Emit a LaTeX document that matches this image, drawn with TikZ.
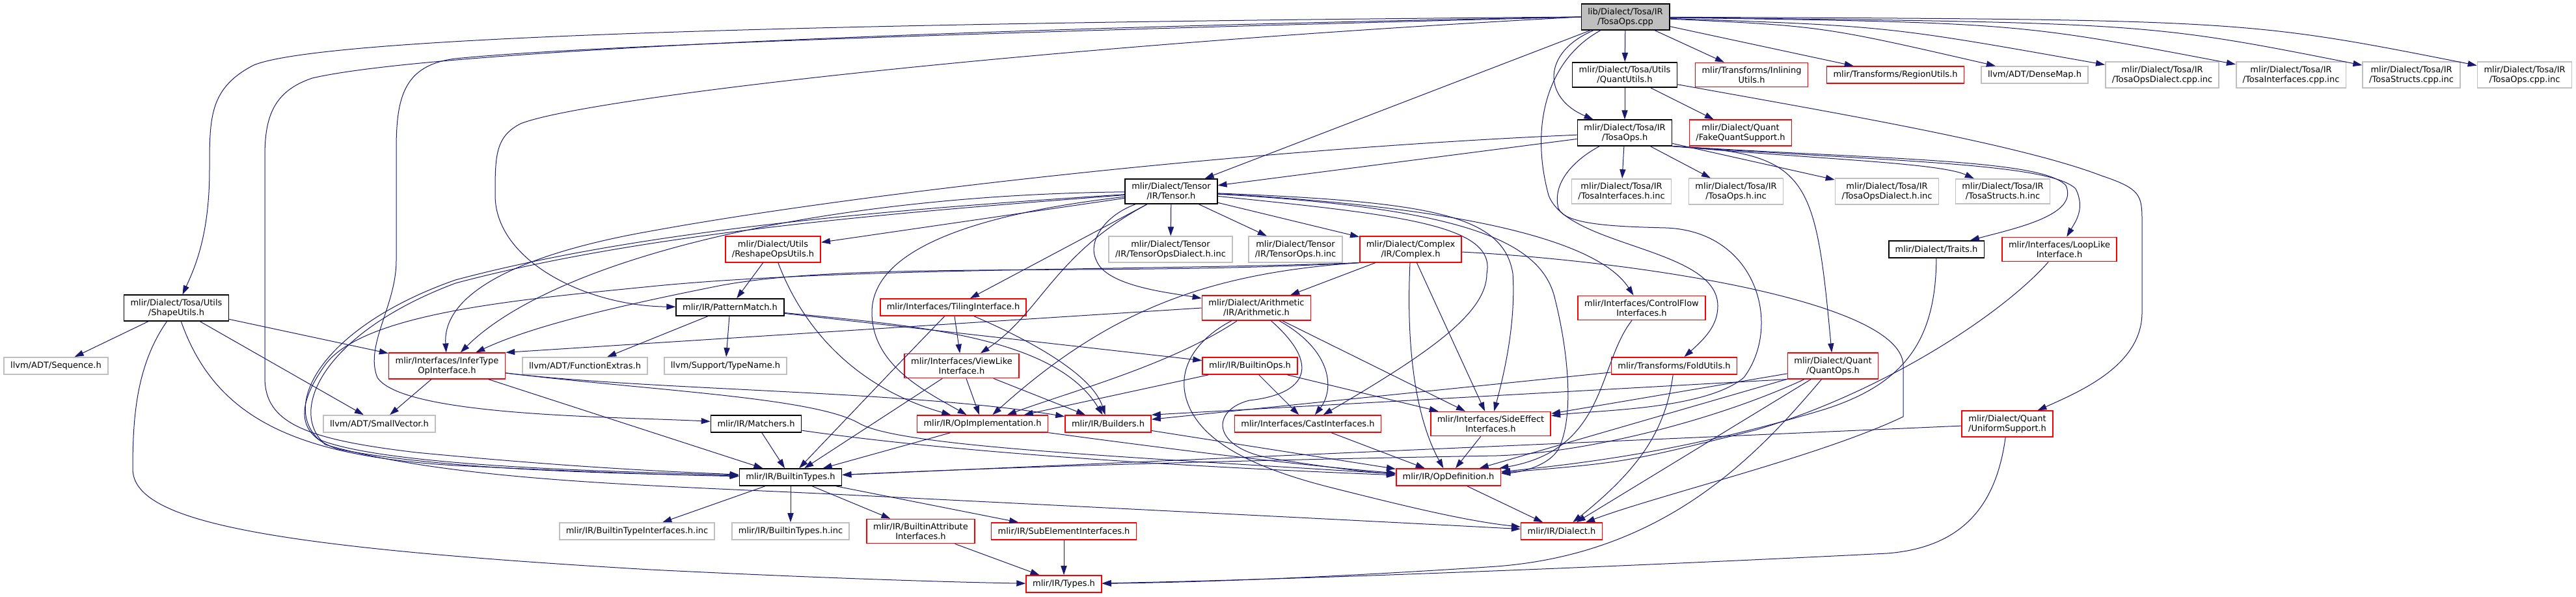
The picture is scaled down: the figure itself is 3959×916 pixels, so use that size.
\documentclass[tikz,border=0pt]{standalone}
\usepackage{fontspec}
\usepackage{tikz}
\usetikzlibrary{arrows.meta}
\newfontfamily\dxfont{DejaVu Sans}
\definecolor{dxblue}{HTML}{191970}
\definecolor{dxred}{HTML}{FF0000}
\definecolor{dxgrey}{HTML}{BFBFBF}

\begin{document}
\begin{tikzpicture}[x=0.5pt, y=-0.5pt,
    file/.style={draw, line width=0.8pt, fill=white, align=center, inner xsep=5pt, inner ysep=3pt,
      minimum height=13pt, font={\dxfont\fontsize{6.5pt}{7.5pt}\selectfont}},
    docfile/.style={file, draw=black},
    cutfile/.style={file, draw=dxred},
    extfile/.style={file, draw=dxgrey},
    rootfile/.style={file, draw=black, fill=dxgrey},
    dep/.style={draw=dxblue, line width=0.5pt, -{Triangle[length=7pt,width=4.6pt]}}]
    \useasboundingbox (0,0) rectangle (3959,916);

    \node[rootfile] (root) at (2498,26) {lib/Dialect/Tosa/IR\\/TosaOps.cpp};
    \node[docfile] (quantutils) at (2497,115) {mlir/Dialect/Tosa/Utils\\/QuantUtils.h};
    \node[cutfile] (inlining) at (2692,115) {mlir/Transforms/Inlining\\Utils.h};
    \node[cutfile] (regionutils) at (2913,115) {mlir/Transforms/RegionUtils.h};
    \node[extfile] (densemap) at (3127,115) {llvm/ADT/DenseMap.h};
    \node[extfile] (dialectcppinc) at (3323,115) {mlir/Dialect/Tosa/IR\\/TosaOpsDialect.cpp.inc};
    \node[extfile] (ifacecppinc) at (3521,115) {mlir/Dialect/Tosa/IR\\/TosaInterfaces.cpp.inc};
    \node[extfile] (structscppinc) at (3706,115) {mlir/Dialect/Tosa/IR\\/TosaStructs.cpp.inc};
    \node[extfile] (opscppinc) at (3880,115) {mlir/Dialect/Tosa/IR\\/TosaOps.cpp.inc};
    \node[docfile] (tosaops) at (2497,204) {mlir/Dialect/Tosa/IR\\/TosaOps.h};
    \node[cutfile] (fakequant) at (2675,204) {mlir/Dialect/Quant\\/FakeQuantSupport.h};
    \node[docfile] (tensor) at (1800,294) {mlir/Dialect/Tensor\\/IR/Tensor.h};
    \node[extfile] (ifacehinc) at (2492,294) {mlir/Dialect/Tosa/IR\\/TosaInterfaces.h.inc};
    \node[extfile] (opshinc) at (2668,294) {mlir/Dialect/Tosa/IR\\/TosaOps.h.inc};
    \node[extfile] (dialecthinc) at (2900,294) {mlir/Dialect/Tosa/IR\\/TosaOpsDialect.h.inc};
    \node[extfile] (structshinc) at (3078,294) {mlir/Dialect/Tosa/IR\\/TosaStructs.h.inc};
    \node[cutfile] (reshape) at (1188,383) {mlir/Dialect/Utils\\/ReshapeOpsUtils.h};
    \node[extfile] (tensordialectinc) at (1799,383) {mlir/Dialect/Tensor\\/IR/TensorOpsDialect.h.inc};
    \node[extfile] (tensoropsinc) at (1991,383) {mlir/Dialect/Tensor\\/IR/TensorOps.h.inc};
    \node[cutfile] (complex) at (2168,383) {mlir/Dialect/Complex\\/IR/Complex.h};
    \node[docfile] (traits) at (2976,383) {mlir/Dialect/Traits.h};
    \node[cutfile] (looplike) at (3165,383) {mlir/Interfaces/LoopLike\\Interface.h};
    \node[docfile] (patternmatch) at (1122,472) {mlir/IR/PatternMatch.h};
    \node[cutfile] (tiling) at (1465,472) {mlir/Interfaces/TilingInterface.h};
    \node[cutfile] (arith) at (1931,473) {mlir/Dialect/Arithmetic\\/IR/Arithmetic.h};
    \node[cutfile] (controlflow) at (2523,473) {mlir/Interfaces/ControlFlow\\Interfaces.h};
    \node[docfile] (shapeutils) at (271,473) {mlir/Dialect/Tosa/Utils\\/ShapeUtils.h};
    \node[extfile] (sequence) at (86,562) {llvm/ADT/Sequence.h};
    \node[cutfile] (infertype) at (687,562) {mlir/Interfaces/InferType\\OpInterface.h};
    \node[extfile] (funcextras) at (899,562) {llvm/ADT/FunctionExtras.h};
    \node[extfile] (typename) at (1115,562) {llvm/Support/TypeName.h};
    \node[cutfile] (viewlike) at (1478,562) {mlir/Interfaces/ViewLike\\Interface.h};
    \node[cutfile] (builtinops) at (1921,562) {mlir/IR/BuiltinOps.h};
    \node[cutfile] (foldutils) at (2573,562) {mlir/Transforms/FoldUtils.h};
    \node[cutfile] (quantops) at (2817,562) {mlir/Dialect/Quant\\/QuantOps.h};
    \node[extfile] (smallvector) at (583,651) {llvm/ADT/SmallVector.h};
    \node[docfile] (matchers) at (1162,651) {mlir/IR/Matchers.h};
    \node[cutfile] (opimpl) at (1510,651) {mlir/IR/OpImplementation.h};
    \node[cutfile] (builders) at (1703,651) {mlir/IR/Builders.h};
    \node[cutfile] (castiface) at (2010,651) {mlir/Interfaces/CastInterfaces.h};
    \node[cutfile] (sideeffect) at (2291,651) {mlir/Interfaces/SideEffect\\Interfaces.h};
    \node[cutfile] (uniform) at (3085,651) {mlir/Dialect/Quant\\/UniformSupport.h};
    \node[docfile] (builtintypes) at (1215,733) {mlir/IR/BuiltinTypes.h};
    \node[cutfile] (opdef) at (2226,733) {mlir/IR/OpDefinition.h};
    \node[extfile] (typeifaceinc) at (979,816) {mlir/IR/BuiltinTypeInterfaces.h.inc};
    \node[extfile] (builtintypesinc) at (1215,816) {mlir/IR/BuiltinTypes.h.inc};
    \node[cutfile] (attriface) at (1415,816) {mlir/IR/BuiltinAttribute\\Interfaces.h};
    \node[cutfile] (subelem) at (1635,816) {mlir/IR/SubElementInterfaces.h};
    \node[cutfile] (dialect) at (2400,816) {mlir/IR/Dialect.h};
    \node[cutfile] (types) at (1635,897) {mlir/IR/Types.h};

    \draw[dep] (root) -- (quantutils);
    \draw[dep] (root) .. controls (2370,80) and (2370,150) .. (tosaops);
    \draw[dep] (root) -- (inlining);
    \draw[dep] (root) -- (regionutils);
    \draw[dep] (root) .. controls (2800,40) .. (densemap);
    \draw[dep] (root) .. controls (2900,40) .. (dialectcppinc);
    \draw[dep] (root) .. controls (3100,35) .. (ifacecppinc);
    \draw[dep] (root) .. controls (3300,35) .. (structscppinc);
    \draw[dep] (root) .. controls (3450,30) .. (opscppinc);
    \draw[dep] (root) -- (tensor);
    \draw[dep] (root.west) .. controls (1300,35) and (500,55) .. (390,100) .. controls (322,135) and (322,180) .. (322,260) .. controls (322,360) and (300,410) .. (shapeutils);
    \draw[dep] (root.west) .. controls (1400,45) and (650,80) .. (480,120) .. controls (420,140) and (407,180) .. (407,240) -- (407,580) .. controls (407,650) and (470,675) .. (640,695) .. controls (900,720) and (1050,725) .. (builtintypes);
    \draw[dep] (root.west) .. controls (1500,50) and (900,70) .. (700,90) .. controls (620,100) and (609,150) .. (609,230) -- (609,400) .. controls (609,470) and (560,530) .. (580,580) .. controls (620,640) and (950,640) .. (matchers);
    \draw[dep] (root.west) .. controls (1600,70) and (900,150) .. (800,190) .. controls (761,210) and (761,240) .. (761,300) .. controls (761,400) and (900,470) .. (patternmatch);
    \draw[dep] (root) .. controls (2380,90) and (2350,190) .. (2380,300) .. controls (2410,380) and (2640,380) .. (2640,470) .. controls (2640,500) and (2620,520) .. (foldutils);

    \draw[dep] (quantutils) -- (tosaops);
    \draw[dep] (quantutils) -- (fakequant);
    \draw[dep] (quantutils) .. controls (2800,170) and (3100,220) .. (3230,270) .. controls (3290,290) and (3292,300) .. (3292,340) -- (3292,480) .. controls (3292,560) and (3200,600) .. (uniform);

    \draw[dep] (tosaops) -- (ifacehinc);
    \draw[dep] (tosaops) -- (opshinc);
    \draw[dep] (tosaops) -- (dialecthinc);
    \draw[dep] (tosaops.south east) .. controls (2800,245) and (2980,250) .. (structshinc);
    \draw[dep] (tosaops.south east) .. controls (2900,245) and (3140,245) .. (3175,285) .. controls (3195,330) and (3100,350) .. (traits);
    \draw[dep] (tosaops.south east) .. controls (2900,248) and (3150,250) .. (3190,290) .. controls (3205,320) and (3190,340) .. (looplike);
    \draw[dep] (tosaops.south east) .. controls (2780,235) and (2790,270) .. (quantops);
    \draw[dep] (tosaops) .. controls (2420,245) and (2385,280) .. (2395,320) .. controls (2405,345) and (2480,348) .. (2560,350) .. controls (2700,355) and (2740,500) .. (2680,580) .. controls (2620,630) and (2450,630) .. (sideeffect);
    \draw[dep] (tosaops) -- (tensor);
    \draw[dep] (tosaops) .. controls (1900,230) and (1300,300) .. (1000,355) .. controls (800,390) and (680,450) .. (infertype);

    \draw[dep] (tensor) -- (tensordialectinc);
    \draw[dep] (tensor) -- (tensoropsinc);
    \draw[dep] (tensor) -- (complex);
    \draw[dep] (tensor) .. controls (1700,330) and (1670,370) .. (1685,400) .. controls (1700,440) and (1800,450) .. (arith);
    \draw[dep] (tensor) -- (reshape);
    \draw[dep] (tensor) .. controls (1250,300) and (850,400) .. (infertype);
    \draw[dep] (tensor) .. controls (1400,320) and (1000,350) .. (700,430) .. controls (500,500) and (430,620) .. (490,675) .. controls (600,720) and (1000,725) .. (builtintypes);
    \draw[dep] (tensor) .. controls (1400,325) and (1000,355) .. (700,435) .. controls (500,510) and (440,630) .. (500,683) .. controls (700,740) and (1000,745) .. (1300,760) .. controls (1700,780) and (2100,800) .. (dialect);
    \draw[dep] (tensor) -- (tiling);
    \draw[dep] (tensor) .. controls (1620,390) and (1600,480) .. (viewlike);
    \draw[dep] (tensor) .. controls (1400,340) and (1340,420) .. (1340,480) .. controls (1340,560) and (1420,600) .. (opimpl);
    \draw[dep] (tensor) .. controls (2150,330) and (2300,345) .. (2285,420) .. controls (2285,480) and (2200,540) .. (castiface);
    \draw[dep] (tensor) .. controls (2200,315) and (2450,360) .. (controlflow);
    \draw[dep] (tensor) .. controls (2200,310) and (2310,330) .. (2325,420) .. controls (2330,500) and (2310,580) .. (sideeffect);
    \draw[dep] (tensor) .. controls (2250,320) and (2370,370) .. (2390,460) .. controls (2410,540) and (2420,640) .. (2395,690) .. controls (2380,715) and (2340,725) .. (opdef);

    \draw[dep] (complex) -- (arith);
    \draw[dep] (complex) .. controls (2160,550) and (2180,650) .. (opdef);
    \draw[dep] (complex) -- (sideeffect);
    \draw[dep] (complex) .. controls (2500,400) and (2920,460) .. (2925,560) -- (2925,640) .. controls (2800,700) and (2550,760) .. (dialect);
    \draw[dep] (complex.south west) .. controls (1700,425) and (1300,400) .. (1100,440) .. controls (950,470) and (820,500) .. (infertype);
    \draw[dep] (complex.south west) .. controls (1800,415) and (1300,410) .. (1000,440) .. controls (800,460) and (560,480) .. (500,560) .. controls (450,630) and (460,670) .. (520,690) .. controls (700,725) and (1000,728) .. (builtintypes);
    \draw[dep] (complex.south west) .. controls (1850,420) and (1700,480) .. (opimpl);

    \draw[dep] (arith.west) -- (infertype.north east);
    \draw[dep] (arith) .. controls (1800,560) and (1650,600) .. (opimpl);
    \draw[dep] (arith) .. controls (2050,540) and (2050,600) .. (castiface);
    \draw[dep] (arith) -- (sideeffect);
    \draw[dep] (arith) .. controls (2030,560) and (2010,605) .. (1920,615) .. controls (1860,630) and (1860,690) .. (1960,705) .. controls (2040,718) and (2100,725) .. (opdef);
    \draw[dep] (arith) .. controls (1840,520) and (1800,570) .. (1830,630) .. controls (1860,690) and (1950,725) .. (2050,750) .. controls (2150,775) and (2250,800) .. (dialect);

    \draw[dep] (builtinops) -- (opimpl);
    \draw[dep] (builtinops) -- (castiface);
    \draw[dep] (builtinops) -- (sideeffect);

    \draw[dep] (patternmatch) -- (typename);
    \draw[dep] (patternmatch) -- (funcextras);
    \draw[dep] (patternmatch) -- (builtinops);
    \draw[dep] (patternmatch) .. controls (1400,500) and (1620,515) .. (builders);

    \draw[dep] (tiling) -- (viewlike);
    \draw[dep] (tiling) .. controls (1380,560) .. (builtintypes);
    \draw[dep] (tiling) .. controls (1600,530) and (1680,580) .. (builders);

    \draw[dep] (viewlike) -- (builtintypes);
    \draw[dep] (viewlike) -- (opimpl);
    \draw[dep] (viewlike) -- (builders);

    \draw[dep] (infertype) -- (smallvector);
    \draw[dep] (infertype) -- (builtintypes);
    \draw[dep] (infertype) .. controls (1000,600) and (1400,600) .. (builders);
    \draw[dep] (infertype) .. controls (1000,600) and (1250,610) .. (1320,650) .. controls (1380,685) and (1700,700) .. (opdef);

    \draw[dep] (shapeutils) -- (sequence);
    \draw[dep] (shapeutils) -- (smallvector);
    \draw[dep] (shapeutils) -- (infertype);
    \draw[dep] (shapeutils) .. controls (330,640) and (450,700) .. (700,715) .. controls (900,725) and (1050,730) .. (builtintypes);
    \draw[dep] (shapeutils) .. controls (210,560) and (204,640) .. (204,720) .. controls (204,800) and (400,840) .. (1000,875) .. controls (1300,890) and (1500,895) .. (types);

    \draw[dep] (reshape) -- (patternmatch);
    \draw[dep] (reshape) .. controls (1240,520) and (1330,600) .. (opimpl);

    \draw[dep] (matchers) -- (builtintypes);
    \draw[dep] (matchers) .. controls (1500,700) and (1900,720) .. (opdef);
    \draw[dep] (opimpl) -- (builtintypes);
    \draw[dep] (opimpl) .. controls (1800,690) and (2000,715) .. (opdef);
    \draw[dep] (builders) -- (opdef);
    \draw[dep] (castiface) -- (opdef);
    \draw[dep] (sideeffect) -- (opdef);
    \draw[dep] (controlflow) .. controls (2455,560) and (2470,690) .. (opdef);

    \draw[dep] (foldutils) -- (builders);
    \draw[dep] (foldutils) .. controls (2560,660) and (2520,720) .. (dialect);

    \draw[dep] (quantops.south west) -- (builders.north east);
    \draw[dep] (quantops) -- (sideeffect);
    \draw[dep] (quantops) -- (opdef);
    \draw[dep] (quantops) -- (dialect);
    \draw[dep] (quantops) .. controls (2650,640) and (2450,695) .. (2300,700) .. controls (2000,705) and (1600,715) .. (builtintypes);
    \draw[dep] (quantops) .. controls (2700,700) and (2560,850) .. (2300,870) .. controls (2000,890) and (1800,895) .. (types);

    \draw[dep] (traits) .. controls (2975,520) and (2930,590) .. (2800,630) .. controls (2600,690) and (2450,710) .. (opdef);
    \draw[dep] (looplike) .. controls (3080,480) and (2900,600) .. (2700,660) .. controls (2500,710) .. (opdef);

    \draw[dep] (uniform) -- (builtintypes);
    \draw[dep] (uniform) .. controls (3070,760) and (3030,840) .. (2900,850) .. controls (2500,870) and (2000,890) .. (types);

    \draw[dep] (opdef) -- (dialect);
    \draw[dep] (builtintypes) -- (typeifaceinc);
    \draw[dep] (builtintypes) -- (builtintypesinc);
    \draw[dep] (builtintypes) -- (attriface);
    \draw[dep] (builtintypes) -- (subelem);
    \draw[dep] (attriface) -- (types);
    \draw[dep] (subelem) -- (types);
\end{tikzpicture}
\end{document}
